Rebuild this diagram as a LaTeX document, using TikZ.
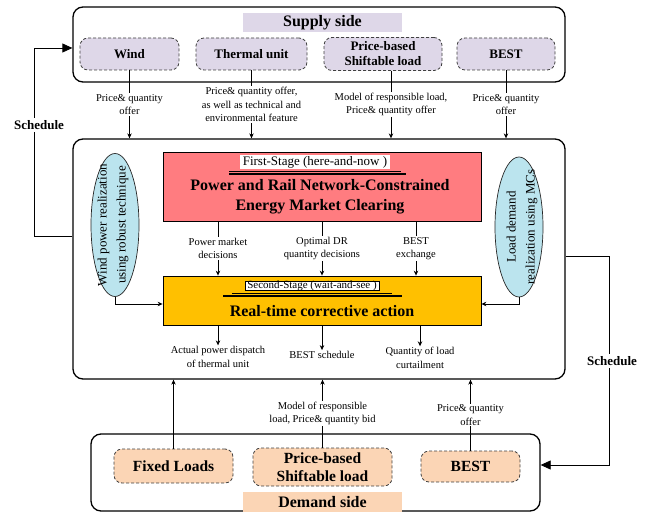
\documentclass[tikz,border=0pt]{standalone}
\usepackage{fontspec}
\setmainfont{Liberation Serif}
\usetikzlibrary{arrows.meta,shapes.geometric}
\definecolor{lavender}{RGB}{222,215,232}
\definecolor{peach}{RGB}{251,213,181}
\definecolor{rose}{RGB}{255,124,128}
\definecolor{amber}{RGB}{255,192,0}
\definecolor{skyblue}{RGB}{187,228,238}
\tikzset{>=stealth,
  sidebox/.style={draw, line width=1.3pt, rounded corners=10pt},
  unitbox/.style={draw=black!75, dash pattern=on 3pt off 2pt, line width=0.8pt, rounded corners=8pt, align=center, inner sep=0pt},
  supplyunit/.style={unitbox, fill=lavender, font=\bfseries\fontsize{13}{15}\selectfont},
  demandunit/.style={unitbox, fill=peach, font=\bfseries\fontsize{15.5}{18}\selectfont},
  stagebox/.style={draw, line width=0.8pt},
  realbox/.style={ellipse, draw=black!85, line width=0.7pt, fill=skyblue, inner sep=0pt},
  realtext/.style={rotate=90, align=center, font=\fontsize{13}{19}\selectfont},
  note/.style={fill=white, align=center, inner sep=1pt, font=\fontsize{10.5}{13.5}\selectfont},
  flow/.style={-{Stealth[length=5pt,width=4.5pt]}, line width=0.7pt},
  sched/.style={-{Triangle[length=10pt,width=9pt]}, line width=0.8pt},
  schedlabel/.style={fill=white, inner sep=2pt, font=\bfseries\fontsize{13}{15}\selectfont},
  heading/.style={font=\bfseries\fontsize{16}{20}\selectfont, inner sep=0pt, align=center}
}

\begin{document}
\begin{tikzpicture}[x=1pt, y=-1pt]
    \useasboundingbox (0,0) rectangle (651,513);

    \node[sidebox, minimum width=492, minimum height=75] (supply) at (319,44.5) {};
    \node[heading, fill=lavender, minimum width=159, minimum height=19] (supplyhead) at (322.5,22.5) {Supply side};
    \node[supplyunit, minimum width=99, minimum height=32] (wind) at (129.5,54) {Wind};
    \node[supplyunit, minimum width=111, minimum height=32] (thermal) at (251.5,54) {Thermal unit};
    \node[supplyunit, minimum width=118, minimum height=33] (pricesup) at (383,54) {Price-based\\Shiftable load};
    \node[supplyunit, minimum width=98, minimum height=32] (bestsup) at (506,54) {BEST};
    \coordinate (pricetap) at ([xshift=8pt]pricesup.south);

    \node[sidebox, minimum width=492, minimum height=240] (main) at (319,259) {};

    \node[stagebox, fill=rose, minimum width=318, minimum height=69] (market) at (322,186.5) {};
    \node[fill=white, inner xsep=3pt, inner ysep=0pt, minimum height=14, font=\fontsize{13}{15}\selectfont] (firststage) at (315,162) {First-Stage (here-and-now )};
    \draw[line width=0.6pt] (229,171) -- (401,171);
    \draw[line width=1.4pt] (229,174) -- (406,174);
    \node[heading] (markettext) at (320,196.5) {Power and Rail Network-Constrained\\Energy Market Clearing};

    \node[stagebox, fill=amber, minimum width=318, minimum height=49] (realtime) at (322,300.5) {};
    \node[draw, line width=0.5pt, fill=white, inner xsep=2pt, inner ysep=0pt, text height=7.5pt, text depth=1.5pt, font=\fontsize{11}{11}\selectfont] (secondstage) at (312,285.5) {Second-Stage (wait-and-see )};
    \draw[line width=0.6pt] (232,293) -- (392,293);
    \draw[line width=1.4pt] (223,296) -- (402,296);
    \node[heading] (realtimetext) at (322,311) {Real-time corrective action};

    \node[realbox, minimum width=48, minimum height=143] (windreal) at (115,225) {};
    \node[realtext] (windrealtext) at (113,225) {Wind power realization\\using robust technique};
    \node[realbox, minimum width=48, minimum height=140] (loadreal) at (519,227) {};
    \node[realtext] (loadrealtext) at (522,227) {Load demand\\realization using MCs};

    \draw[flow] (wind) -- node[note] {Price\& quantity\\offer} (wind |- main.north);
    \draw[flow] (thermal) -- node[note] {Price\& quantity offer,\\as well as technical and\\environmental feature} (thermal |- main.north);
    \draw[flow] (pricetap) -- node[note] {Model of responsible load,\\Price\& quantity offer} (pricetap |- main.north);
    \draw[flow] (bestsup) -- node[note] {Price\& quantity\\offer} (bestsup |- main.north);

    \draw[flow] ([xshift=-104pt]market.south) -- node[note] {Power market\\decisions} ([xshift=-104pt]realtime.north);
    \draw[flow] (market.south) -- node[note] {Optimal DR\\quantity decisions} (realtime.north);
    \draw[flow] ([xshift=94pt]market.south) -- node[note] {BEST\\exchange} ([xshift=94pt]realtime.north);

    \draw[flow] (windreal.south) |- ([yshift=-3.5pt]realtime.west);
    \draw[flow] (loadreal.south) |- ([yshift=-3.5pt]realtime.east);

    \node[note] (dispatch) at (218,357) {Actual power dispatch\\of thermal unit};
    \node[note] (bestsched) at (322,355) {BEST schedule};
    \node[note] (curtail) at (420,358) {Quantity of load\\curtailment};
    \draw[flow] (realtime.south -| dispatch) -- (dispatch);
    \draw[flow] (realtime.south -| bestsched) -- (bestsched);
    \draw[flow] (realtime.south -| curtail) -- (curtail);

    \node[sidebox, minimum width=449, minimum height=77] (demand) at (315.5,472.5) {};
    \node[demandunit, minimum width=119, minimum height=34] (fixed) at (173.5,466) {Fixed Loads};
    \node[demandunit, minimum width=139, minimum height=38] (pricedem) at (322.5,467) {Price-based\\Shiftable load};
    \node[demandunit, minimum width=99, minimum height=31] (bestdem) at (470.5,466.5) {BEST};
    \node[heading, fill=peach, minimum width=159, minimum height=20] (demandhead) at (322.5,502) {Demand side};

    \draw[flow] (fixed) -- (fixed |- main.south);
    \draw[flow] (pricedem) -- node[note] {Model of responsible\\load, Price\& quantity bid} (pricedem |- main.south);
    \draw[flow] (bestdem) -- node[note] {Price\& quantity\\offer} (bestdem |- main.south);

    \draw[sched] ([yshift=23pt]main.west) -- ++(-38,0) |- ([yshift=-3.5pt]supply.west);
    \node[schedlabel] (schedup) at (39,125) {Schedule};
    \draw[sched] ([yshift=3pt]main.east) -- ++(44,0) |- ([yshift=7.5pt]demand.east);
    \node[schedlabel] (scheddown) at (612,361) {Schedule};
\end{tikzpicture}
\end{document}
